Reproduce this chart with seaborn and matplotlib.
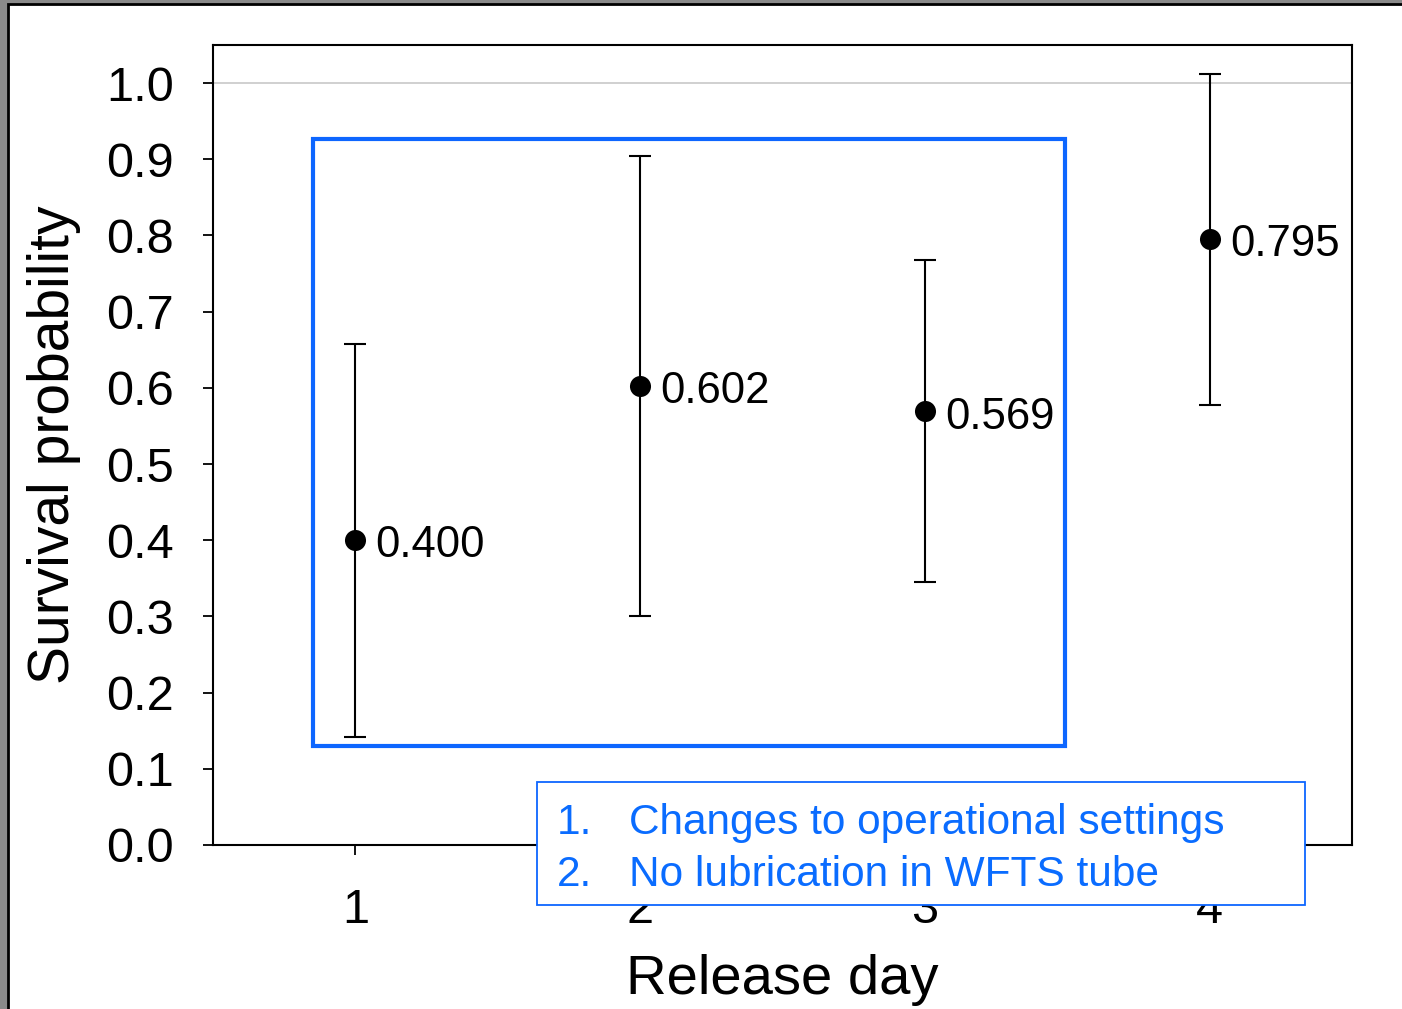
import numpy as np
import pandas as pd
import matplotlib
matplotlib.use("Agg")
import matplotlib.pyplot as plt
from matplotlib.patches import Rectangle
import seaborn as sns

# Daten
release_day = [1, 2, 3, 4]
survival = [0.400, 0.602, 0.569, 0.795]
ci_lower = [0.142, 0.301, 0.345, 0.577]
ci_upper = [0.657, 0.904, 0.768, 1.012]
value_labels = ["0.400", "0.602", "0.569", "0.795"]
y_ticks = [0.0, 0.1, 0.2, 0.3, 0.4, 0.5, 0.6, 0.7, 0.8, 0.9, 1.0]
note_lines = ["Changes to operational settings", "No lubrication in WFTS tube"]

df = pd.DataFrame({
    "day": release_day,
    "surv": survival,
    "lo": ci_lower,
    "hi": ci_upper,
})

sns.set_theme(style="white")
plt.rcParams["font.family"] = ["Liberation Sans", "DejaVu Sans"]

W, H = 1402, 1009
fig = plt.figure(figsize=(W / 100, H / 100), dpi=100)
fig.patch.set_facecolor("#8a8a8a")

# Folienhintergrund (weiß, schwarze Kante oben/links)
fig.patches.append(Rectangle((7.5 / W, -0.05), 1.1, 1 - 3.5 / H + 0.05,
                             transform=fig.transFigure, facecolor="white",
                             edgecolor="black", linewidth=2, zorder=-10))

ax = fig.add_axes([213 / W, 1 - 845 / H, (1352 - 213) / W, (845 - 45) / H])
ax.set_facecolor("white")

# Fehlerbalken
yerr = np.array([df["surv"] - df["lo"], df["hi"] - df["surv"]])
ax.errorbar(df["day"], df["surv"], yerr=yerr, fmt="none", ecolor="black",
            elinewidth=1.5, capsize=8, capthick=1.5, zorder=2)

sns.scatterplot(data=df, x="day", y="surv", color="black", s=230,
                edgecolor="black", linewidth=0, ax=ax, zorder=3)

for d, v, lab in zip(df["day"], df["surv"], value_labels):
    ax.annotate(lab, (d, v), xytext=(14.5, -4), textcoords="offset points",
                ha="left", va="center", fontsize=31.5, color="black")

# Referenzlinie bei 1.0
ax.axhline(1.0, color="#c8c8c8", linewidth=1.2, zorder=1)

# Blauer Rahmen
ax.add_patch(Rectangle((0.851, 0.130), 3.493 - 0.851, 0.927 - 0.130,
                       fill=False, edgecolor="#0D66FF", linewidth=3, zorder=4))

ax.set_xlim(0.5, 4.5)
ax.set_ylim(0, 1.05)
ax.set_xticks(release_day)
ax.set_yticks(y_ticks)
ax.set_yticklabels([f"{t:.1f}" for t in y_ticks])

ax.tick_params(axis="both", which="both", direction="out", length=7,
               width=1.3, color="black", labelsize=35, labelcolor="black")
ax.tick_params(axis="x", pad=24, bottom=True)
ax.tick_params(axis="y", pad=21, left=True)

for s in ax.spines.values():
    s.set_color("black")
    s.set_linewidth(1.5)

ax.set_xlabel("Release day", fontsize=40.5, color="black", labelpad=15)
ax.set_ylabel("Survival probability", fontsize=41, color="black", labelpad=18)

# Textfeld mit Anmerkungen
fig.patches.append(Rectangle((537 / W, 1 - 905 / H), (1305 - 537) / W, (905 - 782) / H,
                             transform=fig.transFigure, facecolor="white",
                             edgecolor="#0D66FF", linewidth=1.3, zorder=5))
for i, (line, base) in enumerate(zip(note_lines, [834, 886])):
    fig.text(557 / W, 1 - base / H, f"{i + 1}.", fontsize=30.5, color="#0A6CFF",
             ha="left", va="baseline", zorder=6)
    fig.text(629 / W, 1 - base / H, line, fontsize=30.5, color="#0A6CFF",
             ha="left", va="baseline", zorder=6)

fig.savefig("out.png", dpi=100, facecolor=fig.get_facecolor())
